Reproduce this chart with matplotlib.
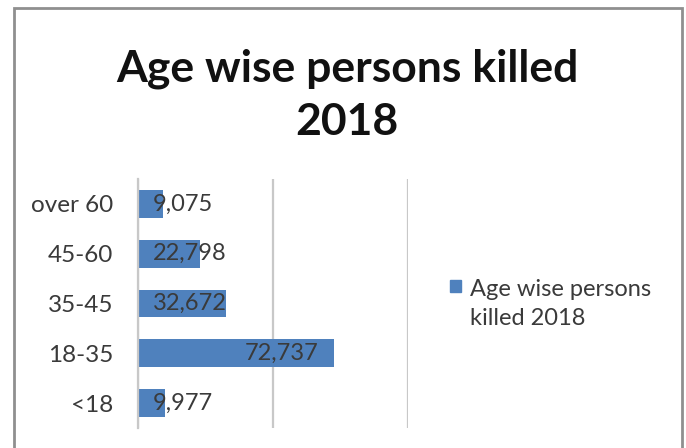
import matplotlib
matplotlib.use("Agg")
import matplotlib.pyplot as plt
from matplotlib.patches import Rectangle

plt.rcParams['font.family'] = ['Lato', 'DejaVu Sans']

# data, bottom to top as drawn
groups = ['<18', '18-35', '35-45', '45-60', 'over 60']
killed = [9977, 72737, 32672, 22798, 9075]
series_name = 'Age wise persons\nkilled 2018'
title = 'Age wise persons killed\n2018'

W, H = 686, 448
fig = plt.figure(figsize=(W / 100, H / 100), dpi=100)
ax = fig.add_axes([138 / W, 1 - 428 / H, (408 - 138) / W, (428 - 179) / H])

bars = ax.barh(range(len(groups)), killed, height=0.56, color='#4F81BD')
ax.set_xlim(0, 100000)
ax.set_ylim(-0.5, len(groups) - 0.5)
ax.set_xticks([0, 50000, 100000])
ax.xaxis.grid(True, color='#c8c8c8', linewidth=1.6)
ax.set_axisbelow(True)
ax.tick_params(axis='x', length=0, labelbottom=False)
ax.tick_params(axis='y', length=0, pad=18, labelsize=17.5, labelcolor='#3a3a3a')
ax.set_yticks(range(len(groups)))
ax.set_yticklabels(groups)
for s in ['top', 'right', 'bottom']:
    ax.spines[s].set_visible(False)
ax.spines['left'].set_color('#c8c8c8')
ax.spines['left'].set_linewidth(1.6)

# data labels: inside end, pushed right when bar too short
fig.canvas.draw()
r = fig.canvas.get_renderer()
px = ax.transData.transform((1, 0))[0] - ax.transData.transform((0, 0))[0]
for i, v in enumerate(killed):
    t = ax.text(v, i, f'{v:,}', fontsize=17, color='#3a3a3a', va='center', ha='right')
    w = t.get_window_extent(r).width
    right = v - 16 / px
    if right - w / px < 15 / px:
        t.set_x(15 / px)
        t.set_ha('left')
    else:
        t.set_x(right)

fig.text(347 / W, 1 - 95 / H, title, ha='center', va='center', fontsize=32,
         fontweight='bold', linespacing=1.4, color='#111111')

# legend
fig.patches.append(Rectangle((450 / W, 1 - 292 / H), 11 / W, 12 / H,
                             transform=fig.transFigure, color='#4F81BD'))
fig.text(470 / W, 1 - 304 / H, series_name, ha='left', va='center', fontsize=17,
         color='#3a3a3a', linespacing=1.5)

# chart border
fig.patches.append(Rectangle((14 / W, -0.05), (682 - 14) / W, 1 - 8 / H + 0.05,
                             transform=fig.transFigure, fill=False,
                             edgecolor='#8f8f8f', linewidth=2))

fig.savefig('out.png', dpi=100)
